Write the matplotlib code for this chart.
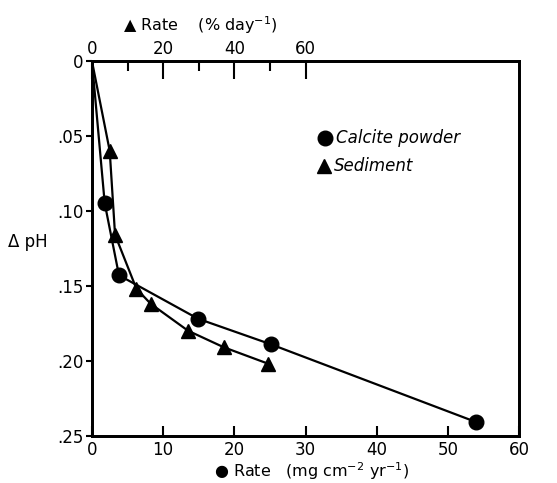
import matplotlib.pyplot as plt
from matplotlib.ticker import FixedLocator

plt.rcParams['font.family'] = ['DejaVu Sans']
plt.rcParams['mathtext.default'] = 'regular'

# calcite powder, rate in mg cm-2 yr-1 (bottom axis)
calcite_rate = [0, 1.8, 3.8, 14.9, 25.1, 54.0]
calcite_dph = [0, 0.095, 0.143, 0.172, 0.189, 0.241]

# sediment, rate in % day-1 (top axis)
sediment_rate = [0, 5, 6.5, 12.5, 16.5, 27, 37, 49.5]
sediment_dph = [0, 0.060, 0.116, 0.152, 0.162, 0.180, 0.191, 0.202]

bottom_ticks = [0, 10, 20, 30, 40, 50, 60]
top_ticks = [0, 20, 40, 60]
top_minor = [10, 30, 50]
y_ticks = [0, 0.05, 0.10, 0.15, 0.20, 0.25]
y_labels = ['0', '.05', '.10', '.15', '.20', '.25']

fig = plt.figure(figsize=(5.57, 4.83), dpi=100)
ax = fig.add_axes([0.165, 0.098, 0.767, 0.776])

ax.set_xlim(0, 60)
ax.set_ylim(0.25, 0)
# no marker at the origin, the curves just start there
ax.plot(calcite_rate, calcite_dph, color='black', lw=1.6, marker='o',
        ms=10.5, markevery=slice(1, None), zorder=3)

ax2 = ax.twiny()
ax2.set_xlim(0, 120)
ax2.plot(sediment_rate, sediment_dph, color='black', lw=1.6, marker='^',
         ms=10, markevery=slice(1, None), zorder=3)

for a in (ax, ax2):
    for s in a.spines.values():
        s.set_linewidth(2)

ax.xaxis.set_major_locator(FixedLocator(bottom_ticks))
ax.tick_params(axis='x', direction='in', length=7, width=1.5,
               labelsize=12, pad=4)
ax.set_yticks(y_ticks)
ax.set_yticklabels(y_labels)
ax.tick_params(axis='y', direction='out', length=4, width=1.5,
               labelsize=12, pad=2)

ax2.xaxis.set_major_locator(FixedLocator(top_ticks))
ax2.xaxis.set_minor_locator(FixedLocator(top_minor))
ax2.tick_params(axis='x', which='major', direction='in', length=13,
                width=1.5, labelsize=12, pad=2)
ax2.tick_params(axis='x', which='minor', direction='in', length=7,
                width=1.5)

fig.text(312 / 557, 1 - 471 / 483,
         '\u25cf Rate   (mg cm$^{-2}$ yr$^{-1}$)', fontsize=11.5,
         ha='center', va='center')
fig.text(200 / 557, 1 - 25 / 483, '\u25b2 Rate    (% day$^{-1}$)',
         fontsize=11.5, ha='center', va='center')
fig.text(0.015, 1 - 242 / 483, '\u0394 pH', fontsize=12, ha='left',
         va='center')

# legend drawn by hand next to the curves
ax.plot([32.8], [0.0515], marker='o', color='black', ms=10.5)
ax.text(34.3, 0.0515, 'Calcite powder', fontsize=12, style='italic',
        va='center')
ax.plot([32.6], [0.070], marker='^', color='black', ms=10)
ax.text(34.0, 0.070, 'Sediment', fontsize=12, style='italic',
        va='center')

fig.savefig('out.png', dpi=100)
